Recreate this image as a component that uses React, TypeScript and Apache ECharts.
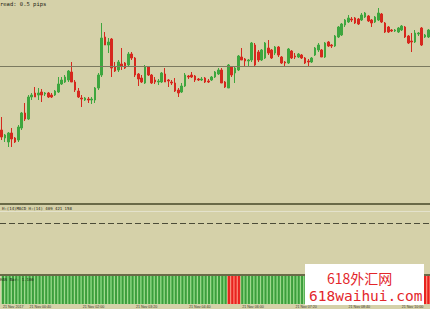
import React, { useEffect, useRef } from "react";
import * as echarts from "echarts";

// Prices in points (higher = higher price), one entry per candle
const opens = [120,112,108,117,112,110,122,137,131,153,157,155,158,156,157,155,155,158,166,168,170,178,168,159,152,150,151,150,150,162,175,213,205,211,183,180,186,187,185,196,192,176,172,167,183,175,170,168,168,176,170,168,167,160,158,164,174,175,174,171,170,172,169,170,173,176,180,168,162,183,177,180,193,191,189,190,205,198,190,192,202,200,197,203,193,188,187,199,194,193,195,192,189,188,195,200,200,193,208,205,204,213,215,225,228,231,232,231,230,233,234,230,228,230,236,227,223,220,219,218,220,223,214,209,208,216,222,213,213];
const closes = [113,115,117,111,108,123,137,131,153,155,153,157,155,157,153,153,159,166,170,173,179,168,160,153,151,152,150,151,162,175,212,205,208,182,179,188,184,182,196,192,175,171,168,183,175,167,168,169,177,168,169,167,159,157,164,175,173,173,170,170,171,168,168,173,178,180,167,163,185,175,182,194,190,189,190,207,185,190,200,207,197,192,203,195,187,187,201,192,193,196,192,187,188,192,202,205,193,207,204,204,214,223,226,230,232,230,227,226,235,237,229,227,233,237,228,218,218,219,220,222,224,213,207,208,217,217,205,215,220];
const lows = [110,108,103,103,107,108,120,129,130,150,153,150,148,154,152,152,154,157,165,167,168,168,158,152,143,149,147,146,147,160,173,205,197,173,178,178,180,181,183,190,173,164,167,166,174,166,166,165,167,168,163,165,158,153,157,163,171,172,168,169,169,167,167,169,172,175,167,162,162,173,167,179,190,183,184,188,183,188,189,191,195,191,195,193,186,183,186,191,191,192,191,186,183,187,194,198,193,192,203,202,203,212,214,223,227,228,226,225,229,232,228,223,227,229,227,217,217,218,218,217,219,212,206,198,207,214,204,212,212];
const highs = [133,116,118,122,113,125,138,147,155,157,163,162,161,158,158,157,160,173,173,175,180,188,170,162,155,153,153,153,163,177,227,218,212,212,188,190,202,188,198,198,193,177,175,185,184,176,173,171,178,182,171,170,172,162,167,177,175,178,175,172,173,173,171,174,179,182,182,169,186,184,183,195,202,192,191,208,207,200,201,208,210,201,204,204,194,189,202,200,197,197,196,193,191,193,203,207,201,208,209,206,215,224,227,231,235,233,233,232,237,238,235,231,234,242,237,228,224,221,221,223,225,224,215,217,220,218,223,216,221];
// histogram state per candle: 1 = green (bull), -1 = red (bear)
const histState = [1,1,1,1,1,1,1,1,1,1,1,1,1,1,1,1,1,1,1,1,1,1,1,1,1,1,1,1,1,1,1,1,1,1,1,1,1,1,1,1,1,1,1,1,1,1,1,1,1,1,1,1,1,1,1,1,1,1,1,1,1,1,1,1,1,1,1,1,-1,-1,-1,-1,1,1,1,1,1,1,1,1,1,1,1,1,1,1,1,1,1,1,1,1,1,1,1,1,1,1,1,1,1,1,1,1,1,1,1,1,1,1,1,1,1,1,1,1,1,1,1,1,1,1,1,1,1,1,1,-1,-1];
const priceLevel = 184;
const macdLevel = 0;
const tickLabels = ["21 Nov 2017","21 Nov 00:40","21 Nov 01:20","21 Nov 02:00","21 Nov 02:40","21 Nov 03:20","21 Nov 04:00","21 Nov 04:40","21 Nov 05:20","21 Nov 06:00","21 Nov 06:40","21 Nov 07:20","21 Nov 08:00","21 Nov 08:40","21 Nov 09:20","21 Nov 10:00","21 Nov 10:40"];
const headerText = "read: 0.5 pips";
const macdLabel = "H:(14)MACD H:(14) 409 421 158";
const histLabel = "HAS Bar: 1.100";
const wmLine1 = "618外汇网";
const wmLine2 = "618waihui.com";

export default function App() {
  const ref = useRef<HTMLDivElement>(null);
  useEffect(() => {
    const chart = echarts.init(ref.current!, null, { renderer: "svg" });
    const cats = opens.map((_, i) => String(i));
    const candles = opens.map((o, i) => [o, closes[i], lows[i], highs[i]]);
    const hidden = { show: false };
    const xBase = (gridIndex: number) => ({
      type: "category",
      gridIndex,
      data: cats,
      boundaryGap: true,
      axisLine: hidden,
      axisTick: hidden,
      axisLabel: hidden,
      splitLine: hidden,
    });
    const yBase = (gridIndex: number, min: number, max: number) => ({
      type: "value",
      gridIndex,
      min,
      max,
      axisLine: hidden,
      axisTick: hidden,
      axisLabel: hidden,
      splitLine: hidden,
    });
    const option: any = {
      animation: false,
      backgroundColor: "#d5d1a9",
      grid: [
        { left: 0, right: 0, top: 0, height: 200 },
        { left: 0, right: 0, top: 212, height: 22 },
        { left: 0, right: 0, top: 276, height: 29 },
      ],
      xAxis: [
        xBase(0),
        xBase(1),
        {
          ...xBase(2),
          axisLabel: {
            show: true,
            interval: 7,
            align: "left",
            margin: 1,
            fontSize: 3.6,
            color: "#3a3a2a",
            fontFamily: "Liberation Sans",
            hideOverlap: true,
            formatter: (_v: string, idx: number) => tickLabels[Math.floor(idx / 8)] || "",
          },
        },
        xBase(2),
      ],
      yAxis: [yBase(0, 50, 250), yBase(1, -1, 1), yBase(2, 0, 1)],
      series: [
        {
          type: "candlestick",
          xAxisIndex: 0,
          yAxisIndex: 0,
          data: candles,
          barWidth: 2.2,
          itemStyle: {
            color: "#3ea63e",
            color0: "#d6281e",
            borderColor: "#3ea63e",
            borderColor0: "#d6281e",
            borderWidth: 1,
          },
          markLine: {
            silent: true,
            symbol: "none",
            label: { show: false },
            lineStyle: { color: "#7b7a60", width: 1, type: "solid" },
            data: [{ yAxis: priceLevel }],
          },
        },
        {
          type: "line",
          xAxisIndex: 1,
          yAxisIndex: 1,
          data: [],
          markLine: {
            silent: true,
            symbol: "none",
            label: { show: false },
            lineStyle: { color: "#4c4c38", width: 1, type: [6, 3] },
            data: [{ yAxis: macdLevel }],
          },
        },
        {
          type: "bar",
          xAxisIndex: 2,
          yAxisIndex: 2,
          barWidth: "100%",
          data: histState.map((s) => ({ value: 1, itemStyle: { color: s > 0 ? "#8edb86" : "#ff7a6e" } })),
        },
        {
          type: "bar",
          xAxisIndex: 3,
          yAxisIndex: 2,
          barWidth: 2,
          data: histState.map((s) => ({ value: 1, itemStyle: { color: s > 0 ? "#3c9e3c" : "#e8231e" } })),
        },
      ],
      graphic: [
        { type: "line", shape: { x1: 0, y1: 204, x2: 430, y2: 204 }, style: { stroke: "#6a6a48", lineWidth: 2 } },
        { type: "line", shape: { x1: 0, y1: 211.5, x2: 430, y2: 211.5 }, style: { stroke: "#e4e2cc", lineWidth: 1 } },
        { type: "line", shape: { x1: 0, y1: 275, x2: 430, y2: 275 }, style: { stroke: "#6a6a48", lineWidth: 2 } },
        { type: "text", left: 0, top: 1, style: { text: headerText, fill: "#1e1e14", fontSize: 5.5, fontFamily: "DejaVu Sans Mono" } },
        { type: "text", left: 2, top: 206, style: { text: macdLabel, fill: "#1e1e14", fontSize: 4, fontFamily: "DejaVu Sans Mono" } },
        { type: "text", left: 0, top: 277, z: 10, style: { text: histLabel, fill: "#1e1e14", fontSize: 4, fontFamily: "DejaVu Sans Mono" } },
        { type: "rect", z: 20, shape: { x: 305, y: 264, width: 119, height: 41 }, style: { fill: "#ffffff" } },
        { type: "text", z: 21, x: 327, y: 271, style: { text: wmLine1, fill: "#e3262b", fontSize: 14, fontFamily: "Noto Sans CJK SC" } },
        { type: "text", z: 21, x: 309, y: 288, style: { text: wmLine2, fill: "#e3262b", fontSize: 14.5, fontFamily: "DejaVu Sans Mono" } },
      ],
    };
    chart.setOption(option);
    return () => chart.dispose();
  }, []);
  return <div ref={ref} style={{ position: "fixed", left: 0, top: 0, width: 430, height: 309 }} />;
}
